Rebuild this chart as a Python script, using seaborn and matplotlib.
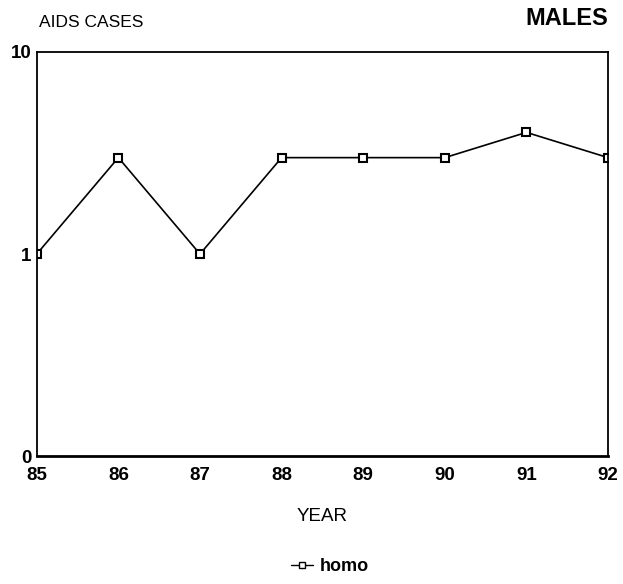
import matplotlib
matplotlib.use("Agg")
import matplotlib.pyplot as plt
import seaborn as sns
import pandas as pd

years = [85, 86, 87, 88, 89, 90, 91, 92]
homo = [1, 3, 1, 3, 3, 3, 4, 3]
ytick_vals = [0.1, 1, 10]
ytick_labels = ["0", "1", "10"]

sns.set_theme(style="white")
plt.rcParams['font.family'] = ['Liberation Sans', 'DejaVu Sans']
plt.rcParams['text.color'] = 'black'
plt.rcParams['axes.labelcolor'] = 'black'
plt.rcParams['xtick.color'] = 'black'
plt.rcParams['ytick.color'] = 'black'

df = pd.DataFrame({"year": years, "cases": homo, "group": "homo"})

fig = plt.figure(figsize=(6.23, 5.84), dpi=100)
ax = fig.add_axes([0.059, 0.219, 0.917, 0.692])
sns.lineplot(data=df, x="year", y="cases", hue="group", palette=["black"],
             marker="s", markersize=6, markerfacecolor="white", markeredgecolor="black",
             markeredgewidth=1.5, linewidth=1.2, ax=ax, legend=False)
ax.set_yscale("log")
ax.set_ylim(0.1, 10)
ax.set_xlim(85, 92)
ax.set_yticks(ytick_vals)
ax.set_yticklabels(ytick_labels, fontsize=13.5, fontweight="bold")
ax.minorticks_off()
ax.set_xticks(years)
ax.set_xticklabels([str(y) for y in years], fontsize=13.5, fontweight="bold")
ax.tick_params(axis="x", direction="in", length=5, width=1, pad=8)
ax.tick_params(axis="y", direction="in", length=0, pad=4)
for s in ax.spines.values():
    s.set_color("black")
    s.set_linewidth(1.3)
ax.spines["bottom"].set_linewidth(2)
ax.set_xlabel("YEAR", fontsize=13.5, labelpad=17)
ax.set_ylabel("")
fig.text(0.062, 0.962, "AIDS CASES", fontsize=12.5, ha="left", va="center")
fig.text(0.976, 0.968, "MALES", fontsize=17, fontweight="bold", ha="right", va="center")

from matplotlib.lines import Line2D
h = Line2D([0], [0], color="black", marker="s", markerfacecolor="white",
           markeredgecolor="black", markersize=5, linewidth=1)
leg = fig.legend([h], ["homo"], loc="center", bbox_to_anchor=(0.53, 0.03),
                 frameon=False, prop={"weight": "bold", "size": 13},
                 handlelength=1.2, handletextpad=0.4)
fig.savefig("out.png", dpi=100)
